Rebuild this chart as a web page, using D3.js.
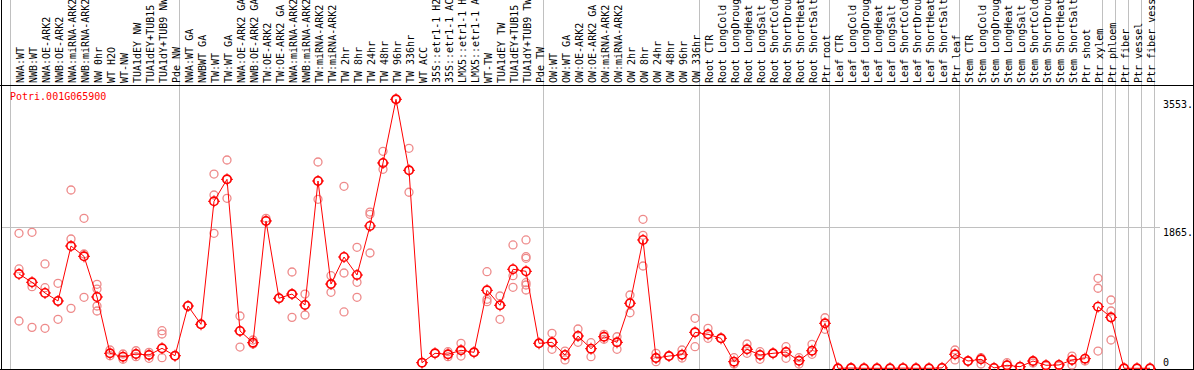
<!DOCTYPE html>
<html>
<head>
<meta charset="utf-8">
<script src="https://cdn.jsdelivr.net/npm/d3@7"></script>
<style>
    body { margin: 0; background: #fff; }
    svg { display: block; }
    text { font-family: "DejaVu Sans Mono", monospace; font-size: 10px; }
</style>
</head>
<body>
<svg></svg>
<script>
const geneName = 'Potri.001G065900'

const categories = [
    'NWA:WT', 'NWB:WT', 'NWA:OE-ARK2', 'NWB:OE-ARK2', 'NWA:miRNA-ARK2', 'NWB:miRNA-ARK2',
    'NW 0hr', 'WT H2O', 'WT-NW', 'TUA1dEY NW', 'TUA1dEY+TUB15', 'TUA1dY+TUB9 NW', 'Pde NW',
    'NWA:WT GA', 'NWBWT GA', 'TW:WT', 'TW:WT GA', 'NWA:OE-ARK2 GA', 'NWB:OE-ARK2 GA',
    'TW:OE-ARK2', 'TW:OE-ARK2 GA', 'NWA:miRNA-ARK2 GA', 'NWB:miRNA-ARK2 GA', 'TW:miRNA-ARK2',
    'TW:miRNA-ARK2 GA', 'TW 2hr', 'TW 8hr', 'TW 24hr', 'TW 48hr', 'TW 96hr', 'TW 336hr',
    'WT ACC', '35S::etr1-1 H2O', '35S::etr1-1 ACC', 'LMX5::etr1-1 H2O', 'LMX5::etr1-1 ACC',
    'WT-TW', 'TUA1dEY TW', 'TUA1dEY+TUB15 TW', 'TUA1dY+TUB9 TW', 'Pde TW',
    'OW:WT', 'OW:WT GA', 'OW:OE-ARK2', 'OW:OE-ARK2 GA', 'OW:miRNA-ARK2', 'OW:miRNA-ARK2 GA',
    'OW 2hr', 'OW 8hr', 'OW 24hr', 'OW 48hr', 'OW 96hr', 'OW 336hr',
    'Root CTR', 'Root LongCold', 'Root LongDrought', 'Root LongHeat', 'Root LongSalt',
    'Root ShortCold', 'Root ShortDrought', 'Root ShortHeat', 'Root ShortSalt', 'Ptr root',
    'Leaf CTR', 'Leaf LongCold', 'Leaf LongDrought', 'Leaf LongHeat', 'Leaf LongSalt',
    'Leaf ShortCold', 'Leaf ShortDrought', 'Leaf ShortHeat', 'Leaf ShortSalt', 'Ptr leaf',
    'Stem CTR', 'Stem LongCold', 'Stem LongDrought', 'Stem LongHeat', 'Stem LongSalt',
    'Stem ShortCold', 'Stem ShortDrought', 'Stem ShortHeat', 'Stem ShortSalt', 'Ptr shoot',
    'Ptr xylem', 'Ptr phloem', 'Ptr fiber', 'Ptr vessel', 'Ptr fiber vessel'
]

// mean expression per sample (the dark line)
const meanValues = [
    1245, 1136, 995, 889, 1615, 1479, 942, 198, 153, 189, 176, 264, 166,
    823, 581, 2206, 2496, 493, 338, 1946, 925, 981, 836, 2474, 1113, 1470, 1232, 1880, 2712, 3553, 2615,
    74, 198, 185, 238, 211, 1030, 832, 1308, 1281, 330,
    343, 176, 427, 259, 417, 343, 859, 1695, 136, 162, 180, 475,
    449, 396, 87, 251, 176, 198, 215, 100, 232, 594,
    0, 3, 0, 0, 0, 2, 0, 0, 5, 185,
    96, 119, 5, 40, 21, 96, 40, 44, 110, 127,
    814, 673, 0, 0, 0
]

// single replicates (the pale circles)
const replicates = [
    [1783, 1312, 625], [1796, 1078, 541], [1378, 1065, 528], [1123, 889, 647], [2355, 1708, 792],
    [1981, 1510, 938], [1109, 1047, 823, 757], [242, 166, 198], [189, 119, 153], [232, 153, 189],
    [211, 132, 176], [497, 453, 140], [166, 166], [823, 823], [581, 581],
    [2566, 2289, 1783], [2751, 2245, 2496], [691, 281, 493], [374, 321, 338], [1981, 1946],
    [925, 925], [1272, 673, 981], [981, 704, 836], [2725, 2232, 2474], [1223, 1004, 1113],
    [2404, 1259, 744], [1598, 1136, 938], [2064, 2034, 1523], [2866, 2628, 2712], [3553, 3553],
    [2906, 2325, 2615], [74, 74], [198, 198], [219, 153, 185], [330, 162, 238],
    [211, 211], [1276, 911, 880], [955, 647, 832], [1629, 1223, 1070], [1695, 1474, 1453, 1131, 1100, 1034],
    [330, 330], [462, 251, 343], [228, 110, 176], [519, 343, 427], [338, 153, 259],
    [449, 383, 417], [417, 251, 343], [968, 734, 859], [1968, 1757, 1351], [198, 87, 136],
    [162, 162], [242, 136, 180], [660, 285, 475], [528, 396, 449], [396, 396],
    [140, 57, 87], [321, 198, 251], [219, 119, 176], [198, 198], [285, 132, 215],
    [140, 57, 100], [317, 185, 232], [668, 515, 594],
    [0, 0], [3, 3], [0, 0], [0, 0], [0, 0], [2, 2], [0, 0], [0, 0], [5, 5], [242, 110, 185],
    [96, 96], [140, 57, 119], [5, 5], [74, 40], [21, 21], [96, 70], [40, 30], [44, 30], [162, 44, 110], [127, 96],
    [1189, 1057, 228], [902, 757, 374], [0, 0], [0, 0], [0, 0]
]

// vertical separators: drawn after this many samples
const groupBreaks = [0, 13, 41, 53, 63, 73, 84, 85, 86, 87, 88]

const tickValues = [0, 1865, 3553]
const tickLabels = ['0', '1865.', '3553.']

const width = 1194
const height = 370

const svg = d3.select('svg')
    .attr('width', width)
    .attr('height', height)

const x = d3.scaleBand()
    .domain(categories)
    .range([11, 1155])

const px = d => x(d) + 8 // points sit a little right of the band centre

const y = d3.scaleLinear()
    .domain([0, 3553])
    .range([368.3, 99.3])

const lineColor = 'red'
const repColor = '#ee8a8a'

// gray separators
svg.append('g')
    .attr('stroke', '#c0c0c0')
    .selectAll('line')
    .data(groupBreaks)
    .join('line')
    .attr('x1', k => Math.round(k < categories.length ? x(categories[k]) : x.range()[1]) - 0.5)
    .attr('x2', k => Math.round(k < categories.length ? x(categories[k]) : x.range()[1]) - 0.5)
    .attr('y1', 0)
    .attr('y2', 369)

// horizontal grid (only the middle tick)
svg.append('line')
    .attr('x1', 1)
    .attr('x2', 1160)
    .attr('y1', Math.round(y(1865)) + 0.5)
    .attr('y2', Math.round(y(1865)) + 0.5)
    .attr('stroke', '#c0c0c0')

// frame
const frame = svg.append('g').attr('stroke', 'black').attr('fill', 'none')
frame.append('line').attr('x1', 0).attr('x2', width).attr('y1', 85.5).attr('y2', 85.5)
frame.append('line').attr('x1', 0).attr('x2', width).attr('y1', 369.5).attr('y2', 369.5)
frame.append('line').attr('x1', 1.5).attr('x2', 1.5).attr('y1', 0).attr('y2', 370)
frame.append('line').attr('x1', 1193.5).attr('x2', 1193.5).attr('y1', 0).attr('y2', 370)

// sample labels, rotated, reading upwards (long ones run off the top, as in the original)
svg.append('g')
    .selectAll('text')
    .data(categories)
    .join('text')
    .attr('transform', d => `translate(${px(d) + 5},83) rotate(-90)`)
    .attr('fill', 'black')
    .text(d => d)

// y tick labels on the right
svg.append('g')
    .selectAll('text')
    .data(tickValues)
    .join('text')
    .attr('x', 1163)
    .attr('y', (d, i) => i === 0 ? y(d) - 2 : y(d) + 9)
    .attr('fill', 'black')
    .text((d, i) => tickLabels[i])

// gene title
svg.append('text')
    .attr('x', 10)
    .attr('y', 100)
    .attr('fill', lineColor)
    .text(geneName)

// replicate points
const reps = []
categories.forEach((c, i) => {
    replicates[i].forEach(v => reps.push({ c: c, v: v }))
})

svg.append('g')
    .attr('fill', 'none')
    .attr('stroke', repColor)
    .attr('stroke-width', 1.3)
    .selectAll('circle')
    .data(reps)
    .join('circle')
    .attr('cx', d => px(d.c))
    .attr('cy', d => y(d.v))
    .attr('r', 4)

// mean line
const line = d3.line()
    .x((d, i) => px(categories[i]))
    .y(d => y(d))

svg.append('path')
    .datum(meanValues)
    .attr('d', line)
    .attr('fill', 'none')
    .attr('stroke', lineColor)
    .attr('stroke-width', 1)

// mean markers: circle with small ticks
const marker = svg.append('g')
    .selectAll('g')
    .data(meanValues)
    .join('g')
    .attr('transform', (d, i) => `translate(${px(categories[i])},${y(d)})`)

marker.append('circle')
    .attr('r', 4.2)
    .attr('fill', 'none')
    .attr('stroke', lineColor)
    .attr('stroke-width', 1.6)

marker.append('path')
    .attr('d', 'M0,-6V-4M0,4V6M-6,0H-4M4,0H6')
    .attr('stroke', lineColor)
    .attr('stroke-width', 1)
</script>
</body>
</html>
